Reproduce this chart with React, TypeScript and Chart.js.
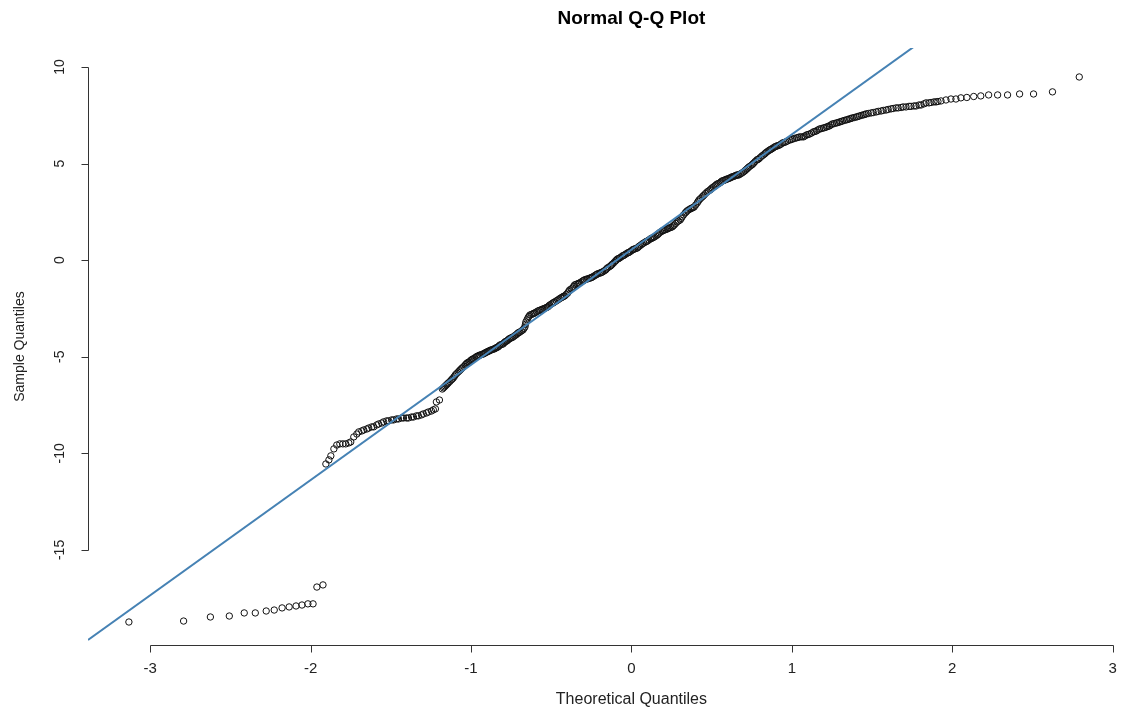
import React, { useEffect, useRef } from "react";
import { Chart, registerables } from "chart.js";

Chart.register(...registerables);

// ---------- text ----------
const TITLE = "Normal Q-Q Plot";
const X_TITLE = "Theoretical Quantiles";
const Y_TITLE = "Sample Quantiles";

// ---------- axes ----------
const xTicks = [-3, -2, -1, 0, 1, 2, 3];
const yTicks = [-15, -10, -5, 0, 5, 10];
const xMin = -3.388;
const xMax = 3.046;
const yMin = -19.92;
const yMax = 10.98;

// ---------- reference line (qqline) ----------
const qqLineIntercept = 0.545;
const qqLineSlope = 5.963;

// ---------- sample points [theoretical, sample] ----------
const lowerTail: [number, number][] = [
  [-3.133, -18.73], [-2.792, -18.68], [-2.625, -18.47], [-2.507, -18.42],
  [-2.414, -18.26], [-2.345, -18.26], [-2.277, -18.16], [-2.227, -18.11],
  [-2.178, -18.0], [-2.134, -17.95], [-2.091, -17.9], [-2.054, -17.85],
  [-2.017, -17.79], [-1.985, -17.79], [-1.961, -16.92], [-1.923, -16.81],
];

const lowerCluster: [number, number][] = [
  [-1.905, -10.55], [-1.886, -10.34], [-1.874, -10.13], [-1.855, -9.77],
  [-1.837, -9.57], [-1.818, -9.51], [-1.799, -9.51], [-1.781, -9.51],
  [-1.762, -9.46], [-1.75, -9.41], [-1.731, -9.15], [-1.712, -9.0],
  [-1.7, -8.89], [-1.681, -8.84], [-1.669, -8.79], [-1.65, -8.74],
  [-1.638, -8.69], [-1.619, -8.63], [-1.607, -8.63], [-1.588, -8.53],
  [-1.576, -8.48], [-1.557, -8.43], [-1.545, -8.37], [-1.526, -8.32],
  [-1.514, -8.32], [-1.495, -8.27], [-1.483, -8.27], [-1.464, -8.22],
  [-1.452, -8.22], [-1.433, -8.17], [-1.421, -8.17], [-1.402, -8.17],
  [-1.39, -8.17], [-1.371, -8.12], [-1.359, -8.12], [-1.34, -8.06],
  [-1.328, -8.06], [-1.309, -8.01], [-1.297, -7.96], [-1.278, -7.91],
  [-1.266, -7.86], [-1.247, -7.81], [-1.235, -7.75], [-1.222, -7.7],
  [-1.216, -7.34], [-1.197, -7.24],
];

const bodyLow: [number, number][] = [
  [-1.179, -6.67], [-1.172, -6.61], [-1.166, -6.56], [-1.16, -6.51],
  [-1.154, -6.46], [-1.148, -6.41], [-1.142, -6.36], [-1.132, -6.28],
  [-1.123, -6.2], [-1.117, -6.15], [-1.111, -6.1], [-1.104, -6.02],
  [-1.098, -5.94], [-1.089, -5.86], [-1.08, -5.79], [-1.073, -5.73],
  [-1.067, -5.68], [-1.061, -5.63], [-1.055, -5.58], [-1.045, -5.5],
  [-1.036, -5.42], [-1.03, -5.37], [-1.024, -5.32], [-1.017, -5.29],
  [-1.011, -5.27], [-1.005, -5.22], [-0.999, -5.17], [-0.993, -5.14],
  [-0.987, -5.11], [-0.977, -5.06], [-0.968, -5.01], [-0.962, -4.98],
  [-0.956, -4.96], [-0.949, -4.93], [-0.943, -4.91], [-0.933, -4.88],
  [-0.924, -4.86], [-0.918, -4.83], [-0.912, -4.8], [-0.906, -4.77],
  [-0.9, -4.75], [-0.893, -4.72], [-0.887, -4.7], [-0.881, -4.67],
  [-0.875, -4.65], [-0.865, -4.62], [-0.856, -4.6], [-0.85, -4.57],
  [-0.844, -4.54], [-0.837, -4.51], [-0.831, -4.49], [-0.825, -4.44],
  [-0.819, -4.39], [-0.809, -4.36], [-0.8, -4.34], [-0.794, -4.28],
  [-0.788, -4.23], [-0.782, -4.2], [-0.776, -4.18], [-0.769, -4.13],
  [-0.763, -4.08], [-0.757, -4.05], [-0.751, -4.03], [-0.744, -4.0],
  [-0.738, -3.98], [-0.729, -3.92], [-0.72, -3.87], [-0.713, -3.82],
  [-0.707, -3.77], [-0.701, -3.74], [-0.695, -3.72], [-0.685, -3.66],
  [-0.676, -3.61], [-0.67, -3.53], [-0.664, -3.46], [-0.661, -3.33],
  [-0.658, -3.2], [-0.651, -3.09], [-0.645, -2.99], [-0.639, -2.91],
  [-0.633, -2.84], [-0.623, -2.81], [-0.614, -2.78], [-0.608, -2.75],
  [-0.602, -2.73], [-0.592, -2.68], [-0.583, -2.63], [-0.574, -2.6],
  [-0.565, -2.58], [-0.558, -2.55], [-0.552, -2.53], [-0.543, -2.5],
  [-0.534, -2.47], [-0.527, -2.44], [-0.521, -2.42], [-0.515, -2.37],
  [-0.509, -2.32], [-0.499, -2.27], [-0.49, -2.22], [-0.484, -2.19],
  [-0.478, -2.16], [-0.468, -2.11], [-0.459, -2.06], [-0.45, -2.01],
  [-0.441, -1.96], [-0.434, -1.93], [-0.428, -1.9], [-0.422, -1.87],
  [-0.416, -1.85], [-0.406, -1.77], [-0.397, -1.7], [-0.391, -1.62],
  [-0.385, -1.54], [-0.375, -1.49], [-0.366, -1.44], [-0.36, -1.36],
  [-0.354, -1.28], [-0.344, -1.25], [-0.335, -1.23], [-0.329, -1.2],
  [-0.323, -1.18], [-0.313, -1.13], [-0.304, -1.08], [-0.298, -1.05],
  [-0.292, -1.02], [-0.282, -0.99], [-0.273, -0.97], [-0.263, -0.94],
  [-0.254, -0.92], [-0.248, -0.89], [-0.242, -0.87], [-0.232, -0.82],
  [-0.223, -0.77], [-0.217, -0.74], [-0.211, -0.71], [-0.201, -0.68],
  [-0.192, -0.66], [-0.186, -0.63], [-0.18, -0.61], [-0.17, -0.56],
  [-0.161, -0.51], [-0.155, -0.45], [-0.149, -0.4], [-0.139, -0.35],
  [-0.13, -0.3], [-0.124, -0.25], [-0.118, -0.2], [-0.108, -0.12],
  [-0.099, -0.04], [-0.093, 0.01], [-0.087, 0.06], [-0.08, 0.08],
  [-0.074, 0.11], [-0.065, 0.16], [-0.056, 0.22], [-0.049, 0.24],
  [-0.043, 0.27], [-0.034, 0.32], [-0.025, 0.37], [-0.018, 0.39],
  [-0.012, 0.42], [-0.003, 0.47],
];

const bodyHigh: [number, number][] = [
  [0.006, 0.53], [0.012, 0.55], [0.019, 0.58], [0.028, 0.6],
  [0.037, 0.63], [0.043, 0.68], [0.05, 0.73], [0.059, 0.78],
  [0.068, 0.84], [0.077, 0.89], [0.087, 0.94], [0.093, 0.96],
  [0.099, 0.99], [0.108, 1.04], [0.118, 1.1], [0.124, 1.12],
  [0.13, 1.15], [0.136, 1.17], [0.143, 1.2], [0.152, 1.25],
  [0.161, 1.3], [0.167, 1.35], [0.174, 1.41], [0.183, 1.46],
  [0.192, 1.51], [0.198, 1.53], [0.205, 1.56], [0.214, 1.58],
  [0.223, 1.61], [0.229, 1.64], [0.236, 1.67], [0.245, 1.69],
  [0.254, 1.72], [0.26, 1.77], [0.267, 1.82], [0.276, 1.9],
  [0.285, 1.98], [0.294, 2.03], [0.304, 2.08], [0.31, 2.16],
  [0.316, 2.24], [0.325, 2.34], [0.335, 2.44], [0.341, 2.49],
  [0.347, 2.55], [0.356, 2.6], [0.366, 2.65], [0.372, 2.67],
  [0.378, 2.7], [0.384, 2.72], [0.391, 2.75], [0.4, 2.85],
  [0.41, 2.96], [0.416, 3.04], [0.422, 3.12], [0.431, 3.19],
  [0.441, 3.27], [0.447, 3.32], [0.453, 3.37], [0.462, 3.45],
  [0.472, 3.53], [0.481, 3.58], [0.49, 3.63], [0.496, 3.68],
  [0.503, 3.74], [0.512, 3.79], [0.521, 3.84], [0.527, 3.89],
  [0.534, 3.94], [0.543, 3.97], [0.552, 4.0], [0.558, 4.05],
  [0.565, 4.1], [0.574, 4.12], [0.583, 4.15], [0.589, 4.17],
  [0.596, 4.2], [0.605, 4.22], [0.614, 4.25], [0.62, 4.28],
  [0.627, 4.31], [0.636, 4.33], [0.645, 4.36], [0.651, 4.38],
  [0.658, 4.41], [0.664, 4.41], [0.67, 4.41], [0.679, 4.46],
  [0.689, 4.51], [0.698, 4.56], [0.707, 4.62], [0.713, 4.67],
  [0.72, 4.72], [0.726, 4.77], [0.732, 4.82], [0.741, 4.87],
  [0.751, 4.93], [0.757, 4.98], [0.763, 5.03], [0.772, 5.11],
  [0.782, 5.19], [0.788, 5.21], [0.794, 5.24], [0.803, 5.31],
  [0.813, 5.39], [0.822, 5.44], [0.831, 5.5], [0.837, 5.55],
  [0.844, 5.6], [0.853, 5.65], [0.862, 5.7], [0.868, 5.73],
  [0.875, 5.76], [0.884, 5.81], [0.893, 5.86], [0.899, 5.88],
  [0.906, 5.91], [0.915, 5.93], [0.924, 5.96], [0.933, 6.01],
  [0.943, 6.07], [0.952, 6.09], [0.962, 6.12], [0.974, 6.17],
  [0.987, 6.22], [0.996, 6.24], [1.005, 6.27], [1.017, 6.3],
  [1.03, 6.33], [1.039, 6.35], [1.049, 6.38], [1.061, 6.38],
  [1.073, 6.38], [1.082, 6.43], [1.092, 6.48], [1.101, 6.5],
  [1.111, 6.53], [1.123, 6.58], [1.135, 6.64], [1.144, 6.66],
  [1.154, 6.69], [1.163, 6.74], [1.173, 6.79], [1.185, 6.81],
  [1.197, 6.84], [1.206, 6.86], [1.216, 6.89], [1.225, 6.92],
  [1.235, 6.95], [1.244, 7.0], [1.253, 7.05], [1.265, 7.07],
  [1.278, 7.1], [1.287, 7.12], [1.297, 7.15], [1.306, 7.17],
  [1.315, 7.2], [1.327, 7.23], [1.34, 7.26], [1.349, 7.28],
  [1.359, 7.31], [1.368, 7.33], [1.377, 7.36], [1.389, 7.38],
  [1.402, 7.41], [1.411, 7.43], [1.421, 7.46], [1.433, 7.49],
  [1.446, 7.52], [1.455, 7.54], [1.464, 7.57], [1.477, 7.59],
  [1.495, 7.62], [1.508, 7.64], [1.526, 7.67], [1.539, 7.7],
  [1.557, 7.72], [1.57, 7.75], [1.588, 7.77], [1.601, 7.8],
  [1.619, 7.83], [1.632, 7.85], [1.65, 7.88], [1.663, 7.88],
  [1.681, 7.9], [1.694, 7.93], [1.712, 7.93], [1.731, 7.96],
  [1.743, 7.96], [1.762, 7.98], [1.775, 7.98], [1.793, 8.03],
  [1.806, 8.03], [1.824, 8.09], [1.837, 8.14], [1.855, 8.14],
  [1.868, 8.16], [1.886, 8.19], [1.899, 8.19], [1.911, 8.21],
];

const upperTail: [number, number][] = [
  [1.93, 8.24], [1.961, 8.29], [1.992, 8.34], [2.023, 8.34],
  [2.054, 8.4], [2.091, 8.42], [2.134, 8.47], [2.178, 8.5],
  [2.227, 8.55], [2.283, 8.55], [2.345, 8.55], [2.42, 8.6],
  [2.507, 8.6], [2.625, 8.71], [2.792, 9.48],
];

const FONT = '"Liberation Sans", Arimo, Arial, sans-serif';

const rAxesPlugin = {
  id: "rAxes",
  afterDraw(chart: any) {
    const { ctx, chartArea, scales } = chart;
    const xs = scales.x;
    const ys = scales.y;
    ctx.save();
    ctx.strokeStyle = "#333";
    ctx.fillStyle = "#222";
    ctx.lineWidth = 1;

    // x axis
    const axY = Math.round(chartArea.bottom) + 0.5;
    ctx.beginPath();
    ctx.moveTo(Math.round(xs.getPixelForValue(xTicks[0])) + 0.5, axY);
    ctx.lineTo(Math.round(xs.getPixelForValue(xTicks[xTicks.length - 1])) + 0.5, axY);
    xTicks.forEach((t) => {
      const px = Math.round(xs.getPixelForValue(t)) + 0.5;
      ctx.moveTo(px, axY);
      ctx.lineTo(px, axY + 7);
    });
    ctx.stroke();
    ctx.font = `15px ${FONT}`;
    ctx.textAlign = "center";
    ctx.textBaseline = "middle";
    xTicks.forEach((t) => {
      ctx.fillText(String(t), xs.getPixelForValue(t), axY + 23);
    });

    // y axis
    const axX = Math.round(chartArea.left) + 0.5;
    ctx.beginPath();
    ctx.moveTo(axX, Math.round(ys.getPixelForValue(yTicks[0])) + 0.5);
    ctx.lineTo(axX, Math.round(ys.getPixelForValue(yTicks[yTicks.length - 1])) + 0.5);
    yTicks.forEach((t) => {
      const py = Math.round(ys.getPixelForValue(t)) + 0.5;
      ctx.moveTo(axX, py);
      ctx.lineTo(axX - 7, py);
    });
    ctx.stroke();
    yTicks.forEach((t) => {
      ctx.save();
      ctx.translate(axX - 28, ys.getPixelForValue(t));
      ctx.rotate(-Math.PI / 2);
      ctx.font = `14px ${FONT}`;
      ctx.fillText(String(t), 0, 0);
      ctx.restore();
    });

    // titles
    const cx = xs.getPixelForValue(0);
    ctx.font = `bold 19px ${FONT}`;
    ctx.fillStyle = "#000";
    ctx.fillText(TITLE, cx, 19);
    ctx.font = `16px ${FONT}`;
    ctx.fillStyle = "#222";
    ctx.fillText(X_TITLE, cx, axY + 54);
    ctx.save();
    ctx.translate(20, (chartArea.top + chartArea.bottom) / 2);
    ctx.rotate(-Math.PI / 2);
    ctx.font = `14px ${FONT}`;
    ctx.fillText(Y_TITLE, 0, 0);
    ctx.restore();
    ctx.restore();
  },
};

export default function App() {
  const canvasRef = useRef<HTMLCanvasElement | null>(null);

  useEffect(() => {
    document.body.style.margin = "0";
    const canvas = canvasRef.current;
    if (!canvas) return;
    const points = [...lowerTail, ...lowerCluster, ...bodyLow, ...bodyHigh, ...upperTail].map(
      ([x, y]) => ({ x, y })
    );
    const lineXs = [xMin, xMax];
    const linePts = lineXs.map((x) => ({ x, y: qqLineIntercept + qqLineSlope * x }));

    const chart = new Chart(canvas, {
      type: "scatter",
      data: {
        datasets: [
          {
            type: "line",
            data: linePts,
            borderColor: "#4682B4",
            borderWidth: 2,
            pointRadius: 0,
            fill: false,
            order: 0,
          } as any,
          {
            data: points,
            pointStyle: "circle",
            pointRadius: 3.2,
            pointBorderWidth: 1,
            borderColor: "#111",
            backgroundColor: "rgba(0,0,0,0)",
            pointBackgroundColor: "rgba(0,0,0,0)",
            pointBorderColor: "#111",
            order: 1,
          } as any,
        ],
      },
      options: {
        responsive: false,
        animation: false,
        devicePixelRatio: 1,
        layout: { padding: { left: 88, right: 0, top: 48, bottom: 64 } },
        plugins: { legend: { display: false }, tooltip: { enabled: false }, title: { display: false } },
        scales: {
          x: { type: "linear", min: xMin, max: xMax, display: false },
          y: { type: "linear", min: yMin, max: yMax, display: false },
        },
      },
      plugins: [rAxesPlugin],
    });
    return () => chart.destroy();
  }, []);

  return (
    <div style={{ position: "absolute", left: 0, top: 0, width: 1125, height: 709, background: "#fff" }}>
      <canvas ref={canvasRef} width={1125} height={709} />
    </div>
  );
}
